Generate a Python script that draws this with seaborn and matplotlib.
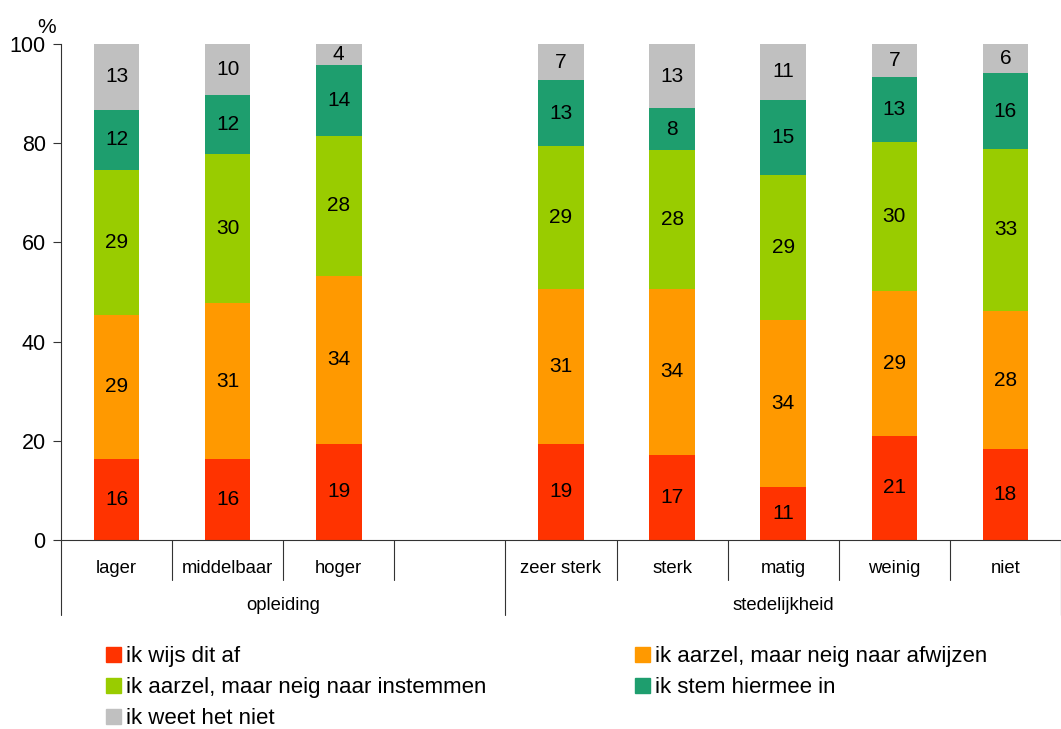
import numpy as np
import pandas as pd
import seaborn as sns
import matplotlib
import matplotlib.pyplot as plt
from matplotlib.patches import Patch

matplotlib.use("Agg")

# categories (empty slot between the two groups)
categories = ["lager", "middelbaar", "hoger", "zeer sterk", "sterk", "matig", "weinig", "niet"]
slot_order = ["lager", "middelbaar", "hoger", " ", "zeer sterk", "sterk", "matig", "weinig", "niet"]
groups = ["opleiding", "stedelijkheid"]

series = ["ik wijs dit af", "ik aarzel, maar neig naar afwijzen",
          "ik aarzel, maar neig naar instemmen", "ik stem hiermee in", "ik weet het niet"]
colors = ["#FF3300", "#FF9900", "#99CC00", "#1E9E6E", "#C0C0C0"]

# segment heights
wijs_af = [16.3, 16.3, 19.4, 19.4, 17.1, 10.7, 21.0, 18.3]
aarzel_af = [29.1, 31.4, 33.8, 31.2, 33.6, 33.6, 29.2, 27.9]
aarzel_in = [29.2, 30.2, 28.3, 28.8, 28.0, 29.2, 30.0, 32.6]
stem_in = [12.1, 11.9, 14.3, 13.3, 8.3, 15.3, 13.1, 15.3]
weet_niet = [13.3, 10.2, 4.2, 7.3, 13.0, 11.2, 6.7, 5.9]

# printed labels
lab_wijs_af = [16, 16, 19, 19, 17, 11, 21, 18]
lab_aarzel_af = [29, 31, 34, 31, 34, 34, 29, 28]
lab_aarzel_in = [29, 30, 28, 29, 28, 29, 30, 33]
lab_stem_in = [12, 12, 14, 13, 8, 15, 13, 16]
lab_weet_niet = [13, 10, 4, 7, 13, 11, 7, 6]

values = [wijs_af, aarzel_af, aarzel_in, stem_in, weet_niet]
labels = [lab_wijs_af, lab_aarzel_af, lab_aarzel_in, lab_stem_in, lab_weet_niet]

df = pd.DataFrame({"cat": categories})
for name, v in zip(series, values):
    df[name] = v
cum = df[series].cumsum(axis=1)

sns.set_theme(style="white")
plt.rcParams["font.family"] = ["Liberation Sans", "DejaVu Sans"]
plt.rcParams["text.color"] = "black"
plt.rcParams["ytick.labelcolor"] = "black"

fig = plt.figure(figsize=(10.61, 7.29), dpi=100)
ax = fig.add_axes([61 / 1061, 1 - 540 / 729, 1 - 61 / 1061, 496 / 729])

# draw cumulative totals from top to bottom so segments stack
for i in range(len(series) - 1, -1, -1):
    sns.barplot(data=cum.assign(cat=df["cat"]), x="cat", y=series[i], order=slot_order,
                color=colors[i], saturation=1, width=0.41, ax=ax, linewidth=0)

# segment labels
pos = {c: slot_order.index(c) for c in categories}
for i in range(len(series)):
    for j, c in enumerate(categories):
        bottom = cum.iloc[j, i] - values[i][j]
        mid = bottom + values[i][j] / 2
        ax.text(pos[c], mid, str(labels[i][j]), ha="center", va="center",
                fontsize=15, color="black")

ax.set_xlim(-0.5, 8.5)
ax.set_ylim(0, 100)
ax.set_yticks([0, 20, 40, 60, 80, 100])
ax.tick_params(axis="y", direction="out", length=6, width=0.8, color="#333333",
               labelsize=15.5, labelcolor="black", pad=5, left=True)
ax.set_xticks([])
ax.set_xlabel("")
ax.set_ylabel("")
for s in ["top", "right"]:
    ax.spines[s].set_visible(False)
for s in ["left", "bottom"]:
    ax.spines[s].set_color("#333333")
    ax.spines[s].set_linewidth(0.8)
ax.text(-0.005, 1.015, "%", transform=ax.transAxes, ha="right", va="bottom", fontsize=15)

# category axis with separators
trans = matplotlib.transforms.blended_transform_factory(ax.transData, ax.transAxes)
for b in np.arange(-0.5, 9.0, 1.0):
    long_line = b in (-0.5, 3.5, 8.5)
    y_end = -0.151 if long_line else -0.081
    ax.plot([b, b], [0, y_end], transform=trans, color="#333333", lw=0.8, clip_on=False)
for c in categories:
    ax.text(pos[c], -0.057, c, transform=trans, ha="center", va="center", fontsize=13.3)
ax.text(1.5, -0.132, groups[0], transform=trans, ha="center", va="center", fontsize=13.3)
ax.text(6.0, -0.132, groups[1], transform=trans, ha="center", va="center", fontsize=13.3)

# legend, filled column-wise
handles = [Patch(color=c, label=s) for c, s in zip(colors, series)]
order = [0, 2, 4, 1, 3]
fig.legend([handles[k] for k in order], [series[k] for k in order], ncol=2,
           loc="upper left", bbox_to_anchor=(106 / 1061, 1 - 646 / 729), frameon=False,
           fontsize=16, handlelength=0.68, handleheight=0.68, handletextpad=0.22,
           labelspacing=0.45, columnspacing=6.7, borderpad=0, borderaxespad=0,
           labelcolor="black")

fig.savefig("out.png", dpi=100)
